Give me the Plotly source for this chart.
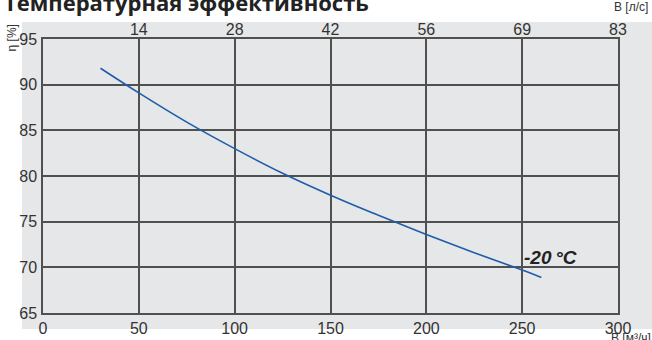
import plotly.graph_objects as go

# расход, м3/ч и температурная эффективность, %
flow_m3h = [30, 50, 75, 100, 125, 150, 175, 200, 225, 250, 260]
eff_minus20 = [91.8, 89.1, 85.9, 83.0, 80.3, 77.9, 75.7, 73.6, 71.6, 69.7, 68.9]

bottom_ticks = [0, 50, 100, 150, 200, 250, 300]
top_ticks = [50, 100, 150, 200, 250, 300]
top_labels = ["14", "28", "42", "56", "69", "83"]
y_ticks = [65, 70, 75, 80, 85, 90, 95]

grid = "#505050"
bg = "#e6e7e8"
font = "Liberation Sans, Arial, sans-serif"

fig = go.Figure()
fig.add_trace(go.Scatter(x=flow_m3h, y=eff_minus20, mode="lines",
                         line=dict(color="#1f5cab", width=1.6, shape="spline"),
                         showlegend=False))
# невидимая серия для верхней оси
fig.add_trace(go.Scatter(x=[0, 300], y=[65, 65], xaxis="x2", mode="lines",
                         line=dict(width=0), showlegend=False, hoverinfo="skip"))

fig.update_layout(
    width=652, height=340,
    margin=dict(l=43, r=34, t=39, b=27),
    paper_bgcolor="white", plot_bgcolor=bg,
    font=dict(family=font, color="#333333", size=16),
    xaxis=dict(range=[0, 300], tickvals=bottom_ticks, showgrid=True, gridcolor=grid, gridwidth=1.5,
               showline=True, linecolor=grid, linewidth=1.5, mirror=True, zeroline=False,
               ticks="", ticklabelstandoff=0, automargin=False),
    xaxis2=dict(range=[0, 300], overlaying="x", side="top", tickvals=top_ticks, ticktext=top_labels,
                showgrid=False, zeroline=False, ticks="", ticklabelstandoff=0, automargin=False),
    yaxis=dict(range=[65, 95], tickvals=y_ticks, showgrid=True, gridcolor=grid, gridwidth=1.5,
               showline=True, linecolor=grid, linewidth=1.5, mirror=True, zeroline=False,
               ticks="", ticklabelstandoff=1, automargin=False),
)

# серая подложка
fig.add_shape(type="rect", xref="paper", yref="paper", x0=-0.0365, x1=1.06, y0=-0.058, y1=1.062,
              fillcolor=bg, line=dict(width=0), layer="below")

fig.add_annotation(text="<b>Температурная эффективность</b>", xref="paper", yref="paper",
                   x=-0.072, y=1.072, xanchor="left", yanchor="bottom", showarrow=False,
                   font=dict(family="Open Sans, sans-serif", size=22, color="#222222"))
fig.add_annotation(text="<b><i>-20\u2009°C</i></b>", x=265, y=71.1, showarrow=False,
                   font=dict(family=font, size=19, color="#222222"))
fig.add_annotation(text="η [%]", xref="paper", yref="paper", x=-0.054, y=1.062, textangle=-90,
                   xanchor="center", yanchor="top", showarrow=False, font=dict(size=12))
fig.add_annotation(text="В [л/с]", xref="paper", yref="paper", x=1.0557, y=1.084,
                   xanchor="right", yanchor="bottom", showarrow=False, font=dict(size=12))
fig.add_annotation(text="В [м³/ч]", xref="paper", yref="paper", x=1.06, y=-0.058,
                   xanchor="right", yanchor="top", showarrow=False, font=dict(size=12))

fig.write_html("out.html", post_script="document.body.style.margin='0';",
               config={"displayModeBar": False})
